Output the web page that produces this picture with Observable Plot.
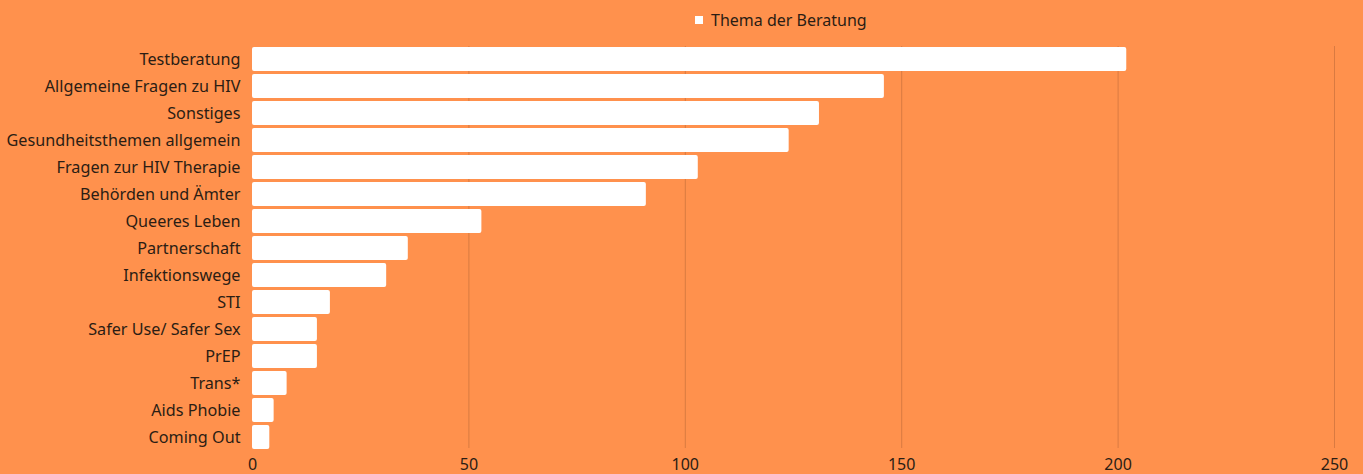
<!DOCTYPE html>
<html>
<head>
<meta charset="utf-8">
<script src="https://cdn.jsdelivr.net/npm/d3@7"></script>
<script src="https://cdn.jsdelivr.net/npm/@observablehq/plot@0.6"></script>
<style>
  html, body { margin: 0; padding: 0; background: #FF914D; }
  #legend { height: 40px; display: flex; align-items: center; justify-content: flex-start; padding-left: 695px; box-sizing: border-box; font-family: "Noto Sans", sans-serif; font-size: 16px; color: #2b1d14; }
  #legend .sw { width: 8px; height: 8px; background: #fff; margin-right: 8px; }
  svg text { fill: #2b1d14; }
</style>
</head>
<body>
<div id="legend"><span class="sw"></span><span>Thema der Beratung</span></div>
<div id="chart"></div>
<script>
const categories = ["Testberatung", "Allgemeine Fragen zu HIV", "Sonstiges", "Gesundheitsthemen allgemein", "Fragen zur HIV Therapie", "Behörden und Ämter", "Queeres Leben", "Partnerschaft", "Infektionswege", "STI", "Safer Use/ Safer Sex", "PrEP", "Trans*", "Aids Phobie", "Coming Out"];
const values = [202, 146, 131, 124, 103, 91, 53, 36, 31, 18, 15, 15, 8, 5, 4];
const xTicks = [0, 50, 100, 150, 200, 250];

const data = categories.map((c, i) => ({ thema: c, anzahl: values[i] }));

const chart = Plot.plot({
  width: 1363,
  height: 434,
  marginTop: 4.5,
  marginBottom: 21.5,
  marginLeft: 252,
  marginRight: 29,
  style: { background: "#FF914D", fontFamily: "'Noto Sans', sans-serif", fontSize: "16px", color: "#2b1d14", overflow: "visible" },
  x: { domain: [0, 250], ticks: xTicks, label: null },
  y: { domain: categories, label: null, paddingInner: 0.111, paddingOuter: 0.111 },
  marks: [
    Plot.gridX(xTicks.slice(1), { stroke: "#c9703c", strokeOpacity: 0.7, strokeWidth: 1, insetTop: 1.5, insetBottom: 4.5 }),
    Plot.barX(data, { x: "anzahl", y: "thema", fill: "#ffffff", rx: 2 }),
    Plot.axisX({ ticks: xTicks, tickSize: 0, tickPadding: 6, fontSize: 16, label: null }),
    Plot.axisY({ tickSize: 0, tickPadding: 12, fontSize: 16.2, label: null })
  ]
});
document.getElementById("chart").appendChild(chart);
</script>
</body>
</html>
